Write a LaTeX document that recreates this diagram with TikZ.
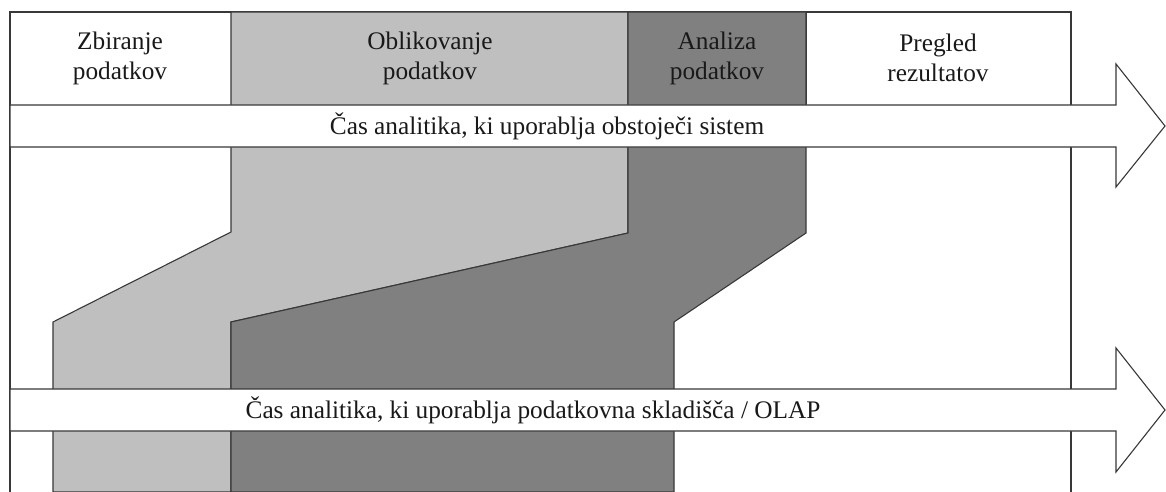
\documentclass[tikz,border=0pt]{standalone}
\usepackage{fontspec}
\setmainfont{Liberation Serif}
\begin{document}
\begin{tikzpicture}[x=1pt,y=-1pt,
  edge/.style={draw=black!78,line width=1.1pt,line join=miter},
  lightband/.style={edge,fill=black!25},
  darkband/.style={edge,fill=black!50},
  timearrow/.style={edge,fill=white},
  lbl/.style={font=\fontsize{25.3}{30}\selectfont,text=black!90,align=center,inner sep=0pt}]
\useasboundingbox (0,0) rectangle (1166,492);

% outer frame (open at the bottom)
\draw[edge] (10,492) -- (10,12) -- (1071,12) -- (1071,492);
\draw[edge] (806,12) -- (806,105);

% phase bands
\path[lightband] (231,12) -- (628,12) -- (628,233) -- (231,322) -- (231,492)
  -- (53,492) -- (53,322) -- (231,232) -- cycle;
\path[darkband] (628,12) -- (806,12) -- (806,233) -- (674,322) -- (674,492)
  -- (231,492) -- (231,322) -- (628,233) -- cycle;

% time arrows
\path[timearrow] (10,105) -- (1116,105) -- (1116,64) -- (1165,126) -- (1116,187)
  -- (1116,147) -- (10,147) -- cycle;
\path[timearrow] (10,389) -- (1116,389) -- (1116,348) -- (1165,410) -- (1116,472)
  -- (1116,431) -- (10,431) -- cycle;

% phase titles
\node[lbl] (zbiranje) at (120,58) {Zbiranje\\podatkov};
\node[lbl] (oblikovanje) at (430,58) {Oblikovanje\\podatkov};
\node[lbl] (analiza) at (717,58) {Analiza\\podatkov};
\node[lbl] (pregled) at (938,58) {Pregled\\rezultatov};

% arrow captions
\node[lbl] (obstojeci) at (547,126) {Čas analitika, ki uporablja obstoječi sistem};
\node[lbl] (olap) at (533,410) {Čas analitika, ki uporablja podatkovna skladišča / OLAP};
\end{tikzpicture}
\end{document}
